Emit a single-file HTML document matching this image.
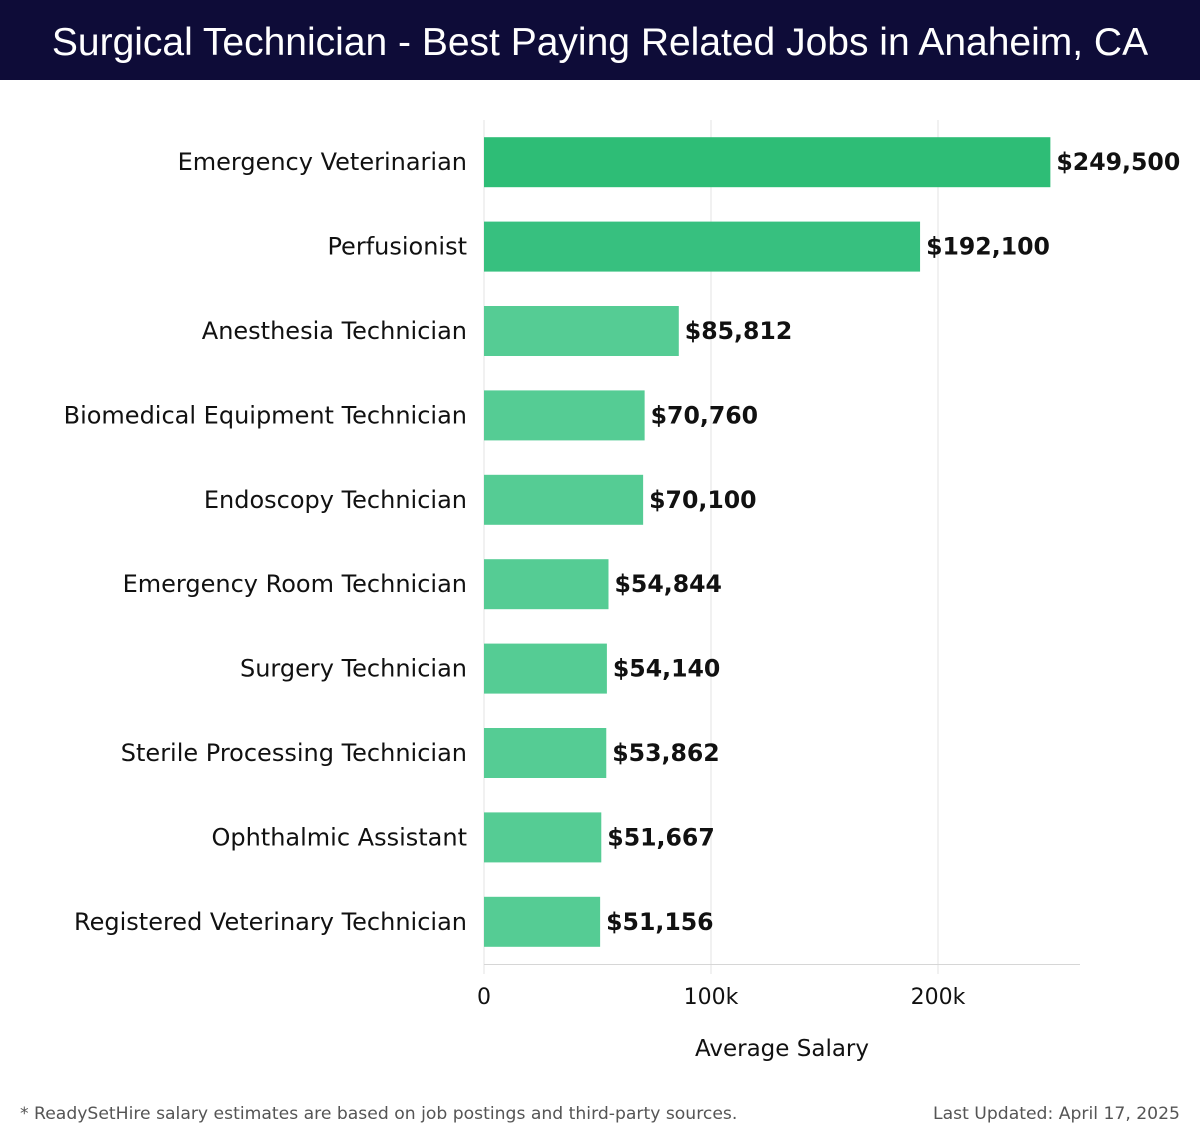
<!DOCTYPE html>
<html><head><meta charset="utf-8"><style>
html,body{margin:0;padding:0;background:#fff;width:1200px;height:1140px;overflow:hidden;font-family:"DejaVu Sans","Liberation Sans",sans-serif;}
#title{position:absolute;left:0;top:0;width:1200px;height:80px;background:#0e0c38;color:#fff;font-size:39px;line-height:86px;text-align:center;font-weight:300;font-family:"Liberation Sans",sans-serif;}
svg{position:absolute;left:0;top:0;}
</style></head><body>
<div id="title">Surgical Technician - Best Paying Related Jobs in Anaheim, CA</div>
<svg id="chart" width="1200" height="1140"></svg>
<script>
const categories=["Emergency Veterinarian","Perfusionist","Anesthesia Technician","Biomedical Equipment Technician","Endoscopy Technician","Emergency Room Technician","Surgery Technician","Sterile Processing Technician","Ophthalmic Assistant","Registered Veterinary Technician"];
const salaries=[249500,192100,85812,70760,70100,54844,54140,53862,51667,51156];
const tickValues=[0,100000,200000];
const tickLabels=["0","100k","200k"];
const NS="http://www.w3.org/2000/svg";
const svg=document.getElementById('chart');
const x0=484,pxPerUnit=227/100000,top0=120,band=84.4,barH=50;
const xs=v=>x0+v*pxPerUnit;
const yc=i=>top0+band*i+band/2;
function mk(t,a,txt){const e=document.createElementNS(NS,t);for(const k in a)e.setAttribute(k,a[k]);if(txt!=null)e.textContent=txt;svg.appendChild(e);return e;}
tickValues.forEach((v,i)=>{
 const g=mk('line',{x1:xs(v),x2:xs(v),y1:top0,y2:974,stroke:'#e3e3e3','stroke-width':1});
 
 
 const t=mk('text',{x:xs(v),y:1004,'text-anchor':'middle','font-size':22,fill:'#111'},tickLabels[i]);
 
 
});
const ax=mk('line',{x1:x0,x2:1080,y1:964.5,y2:964.5,stroke:'#d6d6d6','stroke-width':1});


categories.forEach((c,i)=>{
 const v=salaries[i];
 const fill=i===0?'#2ebd76':(i===1?'#37c07f':'#55cc94');
 const r=mk('rect',{x:x0,y:yc(i)-barH/2,width:xs(v)-x0,height:barH,fill:fill});
 
 
 const l=mk('text',{x:467,y:yc(i)+8,'text-anchor':'end','font-size':24,fill:'#111'},c);
 
 
 const vl=mk('text',{x:xs(v)+6,y:yc(i)+8,'font-size':23.6,'font-weight':'bold',fill:'#111'},'$'+v.toLocaleString('en-US'));
 
 
});
const xt=mk('text',{x:782,y:1056,'text-anchor':'middle','font-size':23,fill:'#111'},'Average Salary');


const fn=mk('text',{x:20,y:1119,'font-size':17.2,fill:'#555'},'* ReadySetHire salary estimates are based on job postings and third-party sources.');


const lu=mk('text',{x:1180,y:1119,'text-anchor':'end','font-size':17.2,fill:'#555'},'Last Updated: April 17, 2025');


</script>
</body></html>
